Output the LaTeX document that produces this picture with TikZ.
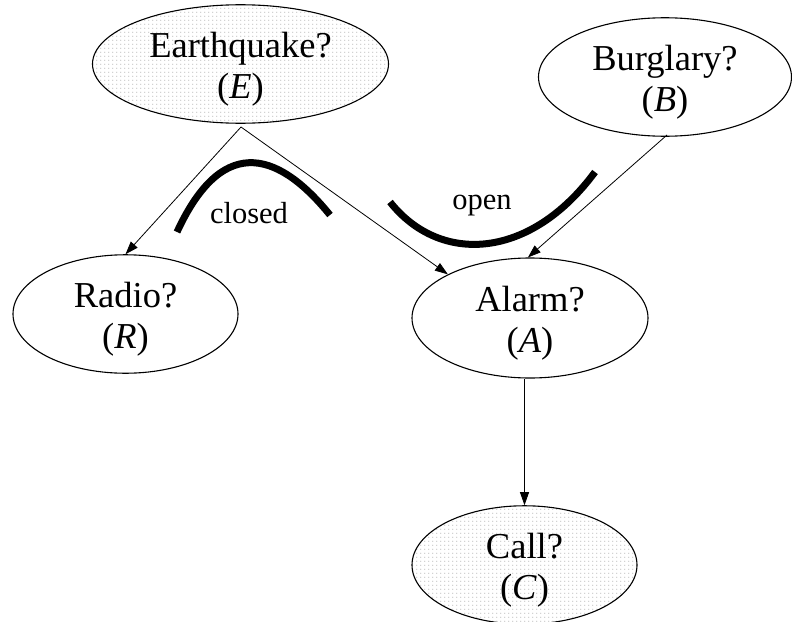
\documentclass[tikz,border=0pt]{standalone}
\usepackage{fontspec}
\setmainfont{Liberation Serif}
\usetikzlibrary{arrows.meta,shapes.geometric,patterns}
% fine stipple used to shade the observed variables
\pgfdeclarepatternformonly{stipple}{\pgfpointorigin}{\pgfpoint{4pt}{4pt}}{\pgfpoint{4pt}{4pt}}{%
  \pgfpathcircle{\pgfpoint{1pt}{1pt}}{0.6pt}\pgfusepath{fill}}
% strut that sets the two text lines a little below the ellipse centre
\newcommand{\toplift}{\rule{0pt}{35pt}}
\begin{document}
\begin{tikzpicture}[x=1pt,y=-1pt,
  var/.style={ellipse,draw,line width=1.1pt,inner sep=0pt,align=center,
    font=\fontsize{36.5}{41}\selectfont},
  observed/.style={var,pattern=stipple,pattern color=black!50},
  link/.style={-{Triangle[length=13pt,width=9pt]},line width=0.8pt},
  path/.style={line width=7pt},
  tag/.style={font=\fontsize{30.5}{36}\selectfont}]
\useasboundingbox (0,0) rectangle (792,621);
\node[observed,minimum width=296pt,minimum height=118pt] (E) at (240.5,64) {\toplift Earthquake?\\(\textit{E})};
\node[var,minimum width=253pt,minimum height=110pt] (B) at (665,77) {\toplift Burglary?\\(\textit{B})};
\node[var,minimum width=225pt,minimum height=108pt] (R) at (125.5,314) {\toplift Radio?\\(\textit{R})};
\node[var,minimum width=236pt,minimum height=120pt] (A) at (530,318) {\toplift Alarm?\\(\textit{A})};
\node[observed,minimum width=225pt,minimum height=108pt] (C) at (524.5,565) {\toplift Call?\\(\textit{C})};
\coordinate (eo) at (241,127);
\coordinate (bo) at (667,135);
\draw[link] (eo) -- (R.north);
\draw[link] (eo) -- (A.152);
\draw[link] (bo) -- (A.92);
\draw[link] (C.north |- A.south) -- (C.north);
% blocked and active trails
\draw[path] (177,232) .. controls (225,128) and (283,157) .. (330,215);
\draw[path] (390,202) .. controls (440,265) and (530,260) .. (595,172);
\node[tag] (closed) at (249,213) {closed};
\node[tag] (open) at (482,206) {open};
\end{tikzpicture}
\end{document}
